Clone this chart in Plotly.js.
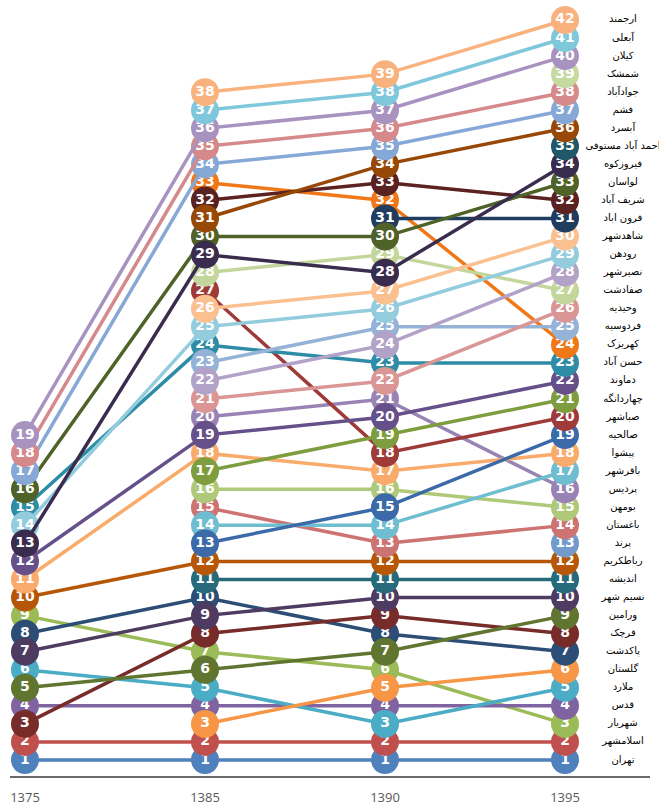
<!DOCTYPE html>
<html>
<head>
<meta charset="utf-8">
<script src="https://cdn.plot.ly/plotly-3.0.1.min.js"></script>
<style>html,body{margin:0;padding:0;background:#fff;}#chart{width:659px;height:806px;}</style>
</head>
<body>
<div id="chart"></div>
<script>
const years = ['1375', '1385', '1390', '1395'];

// cities ordered by their 1395 rank (1 .. 42)
const cities = ['تهران','اسلامشهر','شهریار','قدس','ملارد','گلستان','پاکدشت','قرچک','ورامین','نسیم شهر',
  'اندیشه','رباطکریم','پرند','باغستان','بومهن','پردیس','باقرشهر','پیشوا','صالحیه','صباشهر',
  'چهاردانگه','دماوند','حسن آباد','کهریزک','فردوسیه','وحیدیه','صفادشت','نصیرشهر','رودهن','شاهدشهر',
  'فرون اباد','شریف آباد','لواسان','فیروزکوه','احمد آباد مستوفی','آبسرد','فشم','جوادآباد','شمشک','کیلان',
  'آبعلی','ارجمند'];

const rank1375 = [1,2,9,4,6,null,8,3,5,7,null,10,null,null,null,null,null,11,null,null,
  null,12,15,null,null,null,null,null,14,null,null,null,16,13,null,null,17,18,null,19,null,null];
const rank1385 = [1,2,7,4,5,3,10,8,6,9,11,12,null,15,16,20,14,18,13,27,
  17,19,24,33,23,21,28,22,25,26,null,32,30,29,null,31,34,35,null,36,37,38];
const rank1390 = [1,2,6,4,3,5,8,9,7,10,11,12,null,13,16,21,14,17,15,18,
  19,20,23,32,25,22,29,24,26,27,31,33,30,28,null,34,35,36,null,37,38,39];
const rank1395 = [1,2,3,4,5,6,7,8,9,10,11,12,13,14,15,16,17,18,19,20,
  21,22,23,24,25,26,27,28,29,30,31,32,33,34,35,36,37,38,39,40,41,42];

const colors = ['#4F81BD','#C0504D','#9BBB59','#8064A2','#4BACC6','#F79646',
  '#2C4D75','#772C2A','#5F7530','#4D3B62','#276A7C','#B65708',
  '#729ACA','#CD7371','#AFC97A','#9983B5','#6FBDD1','#F9AB6B',
  '#3C6AA8','#9E3B38','#7E9D3E','#65508A','#2E8CA6','#F07818',
  '#95B3D7','#D99694','#C3D69B','#B3A2C7','#93CDDD','#FAC090',
  '#203D60','#5A2220','#4F6228','#3A2C4E','#205867','#974806',
  '#86A8D6','#D6898A','#C5D9A0','#A893C0','#7FC8DC','#F9B27D'];

const xs = [0, 1, 2, 3];
const traces = [];
cities.forEach((c, i) => {
  const ys = [rank1375[i], rank1385[i], rank1390[i], rank1395[i]];
  traces.push({
    type: 'scatter',
    mode: 'lines+markers+text',
    x: xs,
    y: ys,
    name: c,
    connectgaps: false,
    line: {color: colors[i], width: 3.5},
    marker: {color: colors[i], size: 28, line: {width: 0}},
    text: ys.map(v => v === null ? '' : String(v)),
    textposition: 'middle center',
    textfont: {family: 'DejaVu Sans', size: 14, color: '#ffffff', weight: 'bold'},
    cliponaxis: false,
    hoverinfo: 'skip'
  });
});
traces.push({
  type: 'scatter',
  mode: 'text',
  x: cities.map(() => 3.322),
  y: rank1395,
  text: cities,
  textposition: 'middle center',
  textfont: {family: 'DejaVu Sans', size: 10, color: '#000000'},
  cliponaxis: false,
  hoverinfo: 'skip'
});

const layout = {
  width: 659, height: 806,
  margin: {l: 10, r: 9, t: 5, b: 30},
  paper_bgcolor: '#ffffff', plot_bgcolor: '#ffffff',
  showlegend: false,
  hovermode: false,
  xaxis: {
    range: [-0.0833, 3.4722],
    tickvals: xs, ticktext: years,
    showgrid: false, zeroline: false,
    showline: true, linecolor: '#6b6b6b', linewidth: 2,
    ticks: '', ticklabelstandoff: 8,
    tickfont: {family: 'Open Sans', size: 13, color: '#595959'}
  },
  yaxis: {
    range: [0.114, 42.83],
    showgrid: false, zeroline: false, showline: false,
    showticklabels: false, ticks: ''
  }
};
Plotly.newPlot('chart', traces, layout, {displayModeBar: false, staticPlot: true});
</script>
</body>
</html>
